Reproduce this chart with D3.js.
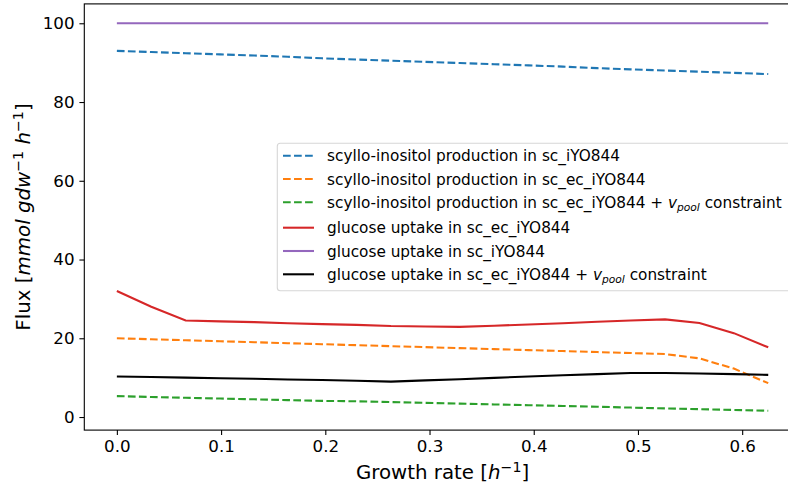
<!DOCTYPE html>
<html>
<head>
<meta charset="utf-8">
<script src="https://cdn.jsdelivr.net/npm/d3@7"></script>
<style>
  html, body { margin: 0; padding: 0; background: #fff; }
  svg { display: block; font-family: 'DejaVu Sans', sans-serif; }
</style>
</head>
<body>
<div id="chart"></div>
<script>
const growth = [0.000, 0.033, 0.066, 0.099, 0.132, 0.164, 0.197, 0.230, 0.263, 0.296,
                0.329, 0.362, 0.395, 0.428, 0.461, 0.493, 0.526, 0.559, 0.592, 0.625];

const scylloIYO = [93.0, 92.7, 92.4, 92.1, 91.8, 91.5, 91.1, 90.8, 90.5, 90.2,
                   89.9, 89.6, 89.3, 89.0, 88.6, 88.3, 88.0, 87.7, 87.4, 87.1];
const scylloEc = [20.0, 19.75, 19.5, 19.25, 19.0, 18.75, 18.5, 18.25, 18.0, 17.75,
                  17.5, 17.25, 17.0, 16.75, 16.5, 16.25, 16.0, 14.9, 12.3, 8.6];
const scylloEcPool = [5.3, 5.1, 4.9, 4.7, 4.5, 4.3, 4.1, 4.0, 3.8, 3.6,
                      3.4, 3.2, 3.0, 2.8, 2.6, 2.4, 2.2, 2.0, 1.8, 1.6];
const glucoseEc = [32.0, 28.0, 24.5, 24.3, 24.1, 23.8, 23.6, 23.4, 23.1, 23.0,
                   22.9, 23.2, 23.5, 23.8, 24.2, 24.5, 24.8, 23.9, 21.3, 17.7];
const glucoseIYO = [100, 100, 100, 100, 100, 100, 100, 100, 100, 100,
                    100, 100, 100, 100, 100, 100, 100, 100, 100, 100];
const glucoseEcPool = [10.3, 10.15, 10.0, 9.85, 9.7, 9.55, 9.4, 9.2, 9.0, 9.3,
                       9.6, 9.95, 10.3, 10.6, 10.9, 11.2, 11.2, 11.05, 10.9, 10.7];

const xTicks = [0.0, 0.1, 0.2, 0.3, 0.4, 0.5, 0.6];
const yTicks = [0, 20, 40, 60, 80, 100];

// pool: label ends with "v_pool constraint"
const series = [
  { label: 'scyllo-inositol production in sc_iYO844', pool: false, values: scylloIYO, color: '#1f77b4', dashed: true },
  { label: 'scyllo-inositol production in sc_ec_iYO844', pool: false, values: scylloEc, color: '#ff7f0e', dashed: true },
  { label: 'scyllo-inositol production in sc_ec_iYO844 + ', pool: true, values: scylloEcPool, color: '#2ca02c', dashed: true },
  { label: 'glucose uptake in sc_ec_iYO844', pool: false, values: glucoseEc, color: '#d62728', dashed: false },
  { label: 'glucose uptake in sc_iYO844', pool: false, values: glucoseIYO, color: '#9467bd', dashed: false },
  { label: 'glucose uptake in sc_ec_iYO844 + ', pool: true, values: glucoseEcPool, color: '#000000', dashed: false }
];

const W = 788, H = 484;
const plot = { left: 84.3, right: 800.8, top: 3.9, bottom: 430.1 };

const svg = d3.select('#chart').append('svg')
  .attr('width', W).attr('height', H);

const x = d3.scaleLinear().domain([-0.03125, 0.65625]).range([plot.left, plot.right]);
const y = d3.scaleLinear().domain([-3.32, 104.92]).range([plot.bottom, plot.top]);

// Lines
const line = d3.line().x((d, i) => x(growth[i])).y(d => y(d));
series.forEach(s => {
  svg.append('path')
    .datum(s.values)
    .attr('d', line)
    .attr('fill', 'none')
    .attr('stroke', s.color)
    .attr('stroke-width', 2.08)
    .attr('stroke-dasharray', s.dashed ? '7.7,3.33' : null);
});

// Axes
const xAxis = svg.append('g')
  .attr('transform', `translate(0,${plot.bottom})`)
  .call(d3.axisBottom(x).tickValues(xTicks).tickFormat(d3.format('.1f'))
    .tickSize(4.9).tickPadding(4.9).tickSizeOuter(0));
const yAxis = svg.append('g')
  .attr('transform', `translate(${plot.left},0)`)
  .call(d3.axisLeft(y).tickValues(yTicks).tickFormat(d3.format('d'))
    .tickSize(4.9).tickPadding(4.9).tickSizeOuter(0));
[xAxis, yAxis].forEach(a => {
  a.select('.domain').remove();
  a.selectAll('line').attr('stroke', '#000').attr('stroke-width', 1.1);
  a.selectAll('text').attr('fill', '#000').attr('font-size', '16.7px')
    .attr('font-family', "'DejaVu Sans', sans-serif");
});

// Frame
svg.append('rect')
  .attr('x', plot.left).attr('y', plot.top)
  .attr('width', plot.right - plot.left).attr('height', plot.bottom - plot.top)
  .attr('fill', 'none').attr('stroke', '#000').attr('stroke-width', 1.1);

// Axis labels
const xl = svg.append('text')
  .attr('x', (plot.left + plot.right) / 2).attr('y', 479)
  .attr('text-anchor', 'middle').attr('font-size', '19.8px');
xl.append('tspan').text('Growth rate [');
xl.append('tspan').attr('font-style', 'italic').text('h');
xl.append('tspan').attr('font-size', '14.2px').attr('dy', -7.5).text('\u22121');
xl.append('tspan').attr('dy', 7.5).text(']');

const yl = svg.append('text')
  .attr('transform', `translate(30,${(plot.top + plot.bottom) / 2}) rotate(-90)`)
  .attr('text-anchor', 'middle').attr('font-size', '19.8px');
yl.append('tspan').text('Flux [');
yl.append('tspan').attr('font-style', 'italic').text('mmol gdw');
yl.append('tspan').attr('font-size', '14.2px').attr('dy', -7.5).text('\u22121');
yl.append('tspan').attr('dy', 7.5).text(' ');
yl.append('tspan').attr('font-style', 'italic').text('h');
yl.append('tspan').attr('font-size', '14.2px').attr('dy', -7.5).text('\u22121');
yl.append('tspan').attr('dy', 7.5).text(']');

// Legend
const lg = svg.append('g');
lg.append('rect')
  .attr('x', 277.3).attr('y', 143.3)
  .attr('width', 794 - 277.3).attr('height', 290.7 - 143.3)
  .attr('rx', 3)
  .attr('fill', '#fff').attr('fill-opacity', 0.8)
  .attr('stroke', '#d6d6d6').attr('stroke-width', 1.1);

let rowY = 155.7;
series.forEach((s, i) => {
  if (i > 0) rowY += 23.3 + (series[i - 1].pool ? 2.1 : 0);
  lg.append('line')
    .attr('x1', 283).attr('x2', 314)
    .attr('y1', rowY).attr('y2', rowY)
    .attr('stroke', s.color).attr('stroke-width', 2.08)
    .attr('stroke-dasharray', s.dashed ? '7.7,3.33' : null);
  const t = lg.append('text')
    .attr('x', 327).attr('y', rowY + 5.5)
    .attr('font-size', '15.3px').attr('fill', '#000');
  t.append('tspan').text(s.label);
  if (s.pool) {
    t.append('tspan').attr('font-style', 'italic').text('v');
    t.append('tspan').attr('font-style', 'italic').attr('font-size', '10.7px').attr('dy', 2.8).text('pool');
    t.append('tspan').attr('dy', -2.8).text(' constraint');
  }
});
</script>
</body>
</html>
